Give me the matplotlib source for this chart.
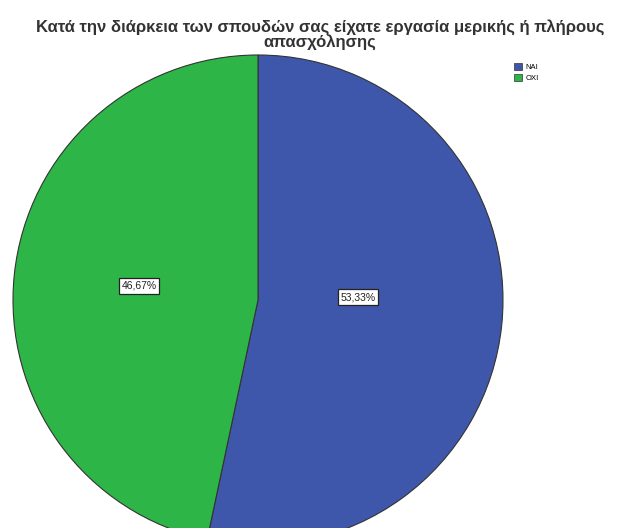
import matplotlib.pyplot as plt
from matplotlib.patches import Patch

plt.rcParams['font.family'] = ['Liberation Sans', 'DejaVu Sans']

title = 'Κατά την διάρκεια των σπουδών σας είχατε εργασία μερικής ή πλήρους\nαπασχόλησης'
labels = ['ΝΑΙ', 'ΟΧΙ']
values = [53.33, 46.67]
colors = ['#3F57AA', '#2DB647']

fig = plt.figure(figsize=(6.4, 5.28), dpi=100)
ax = fig.add_axes([0, 0, 1, 1])

wedges, _ = ax.pie(values, colors=colors, startangle=90, counterclock=False,
                   center=(258, 228), radius=245, frame=True,
                   wedgeprops=dict(edgecolor='#333333', linewidth=0.8))
ax.set_xlim(0, 640)
ax.set_ylim(0, 528)
ax.set_aspect('auto')
ax.axis('off')

# percent labels
label_pos = [(358, 231), (139, 242)]
for v, (x, y) in zip(values, label_pos):
    ax.text(x, y, f'{v:.2f}%'.replace('.', ','), ha='center', va='center',
            fontsize=7.5, color='#222222',
            bbox=dict(boxstyle='square,pad=0.25', fc='white', ec='#222222', lw=0.9))

fig.text(0.5, 0.935, title, ha='center', va='center', fontsize=12,
         fontweight='bold', color='#333333', linespacing=0.95)

handles = [Patch(facecolor=c, edgecolor='#333333', linewidth=0.5) for c in colors]
fig.legend(handles, labels, loc='upper left', bbox_to_anchor=(0.797, 0.888),
           frameon=False, fontsize=5.5, handlelength=1.0, handleheight=1.0,
           handletextpad=0.5, labelspacing=0.45, borderpad=0)

fig.savefig('out.png', dpi=100)
